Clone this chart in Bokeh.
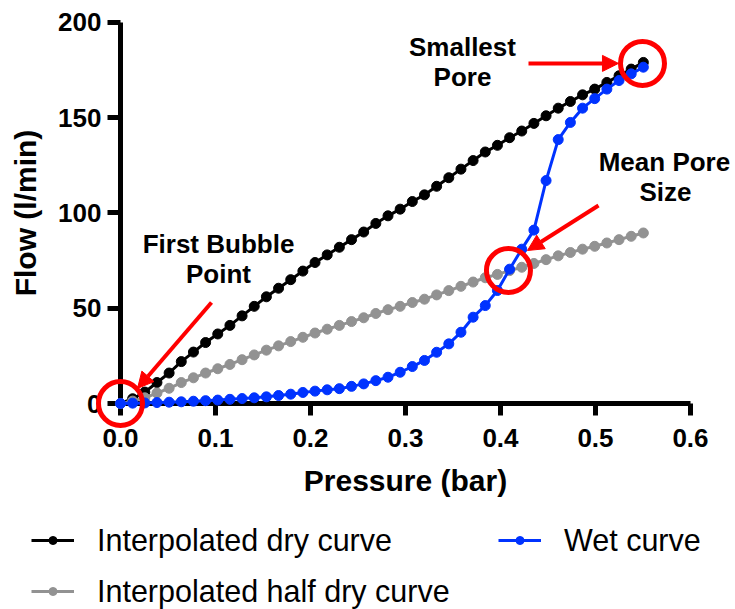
from bokeh.plotting import figure
from bokeh.models import (ColumnDataSource, Range1d, FixedTicker, PrintfTickFormatter,
                          Legend, LegendItem, Arrow, NormalHead)
from bokeh.core.properties import value
from bokeh.embed import file_html
from bokeh.resources import INLINE

# ---------------- data ----------------
pressure = [0.0, 0.0128, 0.0256, 0.0384, 0.0512, 0.064, 0.0768, 0.0896, 0.1024, 0.1152,
            0.128, 0.1408, 0.1536, 0.1664, 0.1792, 0.192, 0.2048, 0.2176, 0.2304, 0.2432,
            0.256, 0.2688, 0.2816, 0.2944, 0.3072, 0.32, 0.3328, 0.3456, 0.3584, 0.3712,
            0.384, 0.3968, 0.4096, 0.4224, 0.4352, 0.448, 0.4608, 0.4736, 0.4864, 0.4992,
            0.512, 0.5248, 0.5376, 0.5504]

dry_flow = [0, 2.5, 6, 11, 16, 22, 27, 32, 36.5, 41,
            46, 51, 56, 60.5, 65, 69.5, 74, 78, 82, 86,
            90, 94.5, 98.5, 102, 106, 109.5, 114, 118.5, 123, 127.5,
            132, 135.5, 139.5, 143, 147, 151, 155, 158.5, 162, 165,
            168.5, 172, 175.5, 179]

half_dry_flow = [0, 1.25, 3, 5.5, 8, 11, 13.5, 16, 18.25, 20.5,
                 23, 25.5, 28, 30.25, 32.5, 34.75, 37, 39, 41, 43,
                 45, 47.25, 49.25, 51, 53, 54.75, 57, 59.25, 61.5, 63.75,
                 66, 67.75, 69.75, 71.5, 73.5, 75.5, 77.5, 79.25, 81, 82.5,
                 84.25, 86, 87.75, 89.5]

wet_flow = [0, 0.2, 0.3, 0.5, 0.7, 0.9, 1.2, 1.5, 1.8, 2.2,
            2.6, 3.0, 3.5, 4.2, 4.9, 5.8, 6.5, 7.2, 7.8, 9.0,
            10.3, 12.0, 13.8, 16.4, 19.4, 22.6, 26.9, 31.3, 37.4, 45.3,
            51.4, 59.3, 70.5, 81.0, 91.0, 117.0, 138.5, 147.5, 155.0, 160.0,
            165.0, 169.5, 173.0, 176.5]

x_ticks = [0.0, 0.1, 0.2, 0.3, 0.4, 0.5, 0.6]
y_ticks = [0, 50, 100, 150, 200]

series_labels = ["Interpolated dry curve", "Wet curve", "Interpolated half dry curve"]

# highlighted points (red circles)
highlight_x = [0.0, 0.5495, 0.4084]
highlight_y = [0.0, 178.5, 69.8]

# arrows
arrow_x_start = [0.0958, 0.4295, 0.5032]
arrow_y_start = [53.0, 178.5, 103.9]
arrow_x_end = [0.0179, 0.5242, 0.4284]
arrow_y_end = [7.9, 178.5, 80.3]

# annotation texts
note_text = ["First Bubble", "Point", "Smallest", "Pore", "Mean Pore", "Size"]
note_x = [0.1032, 0.1032, 0.36, 0.36, 0.5726, 0.5737]
note_y = [83.5, 68.2, 186.9, 171.1, 126.5, 110.8]

# ---------------- style ----------------
FONT = "Liberation Sans"
BLACK = "#000000"
GRAY = "#929292"
BLUE = "#0033ff"
RED = "#ff0000"

p = figure(width=735, height=609,
           x_range=Range1d(-0.1263, 0.6474), y_range=Range1d(-108.1, 211.5),
           output_backend="svg", toolbar_location=None, tools="", min_border=0)
p.outline_line_color = None
p.grid.visible = False
p.background_fill_color = "white"

xa = p.xaxis[0]
ya = p.yaxis[0]
for ax in (xa, ya):
    ax.fixed_location = 0
    ax.axis_line_width = 5
    ax.major_tick_line_width = 5
    ax.major_tick_in = 0
    ax.minor_tick_line_color = None
    ax.major_label_text_font = FONT
    ax.major_label_text_font_style = "bold"
    ax.major_label_text_font_size = "26px"
    ax.major_label_text_color = BLACK
    ax.axis_label_text_font = FONT
    ax.axis_label_text_font_style = "bold"
    ax.axis_label_text_font_size = "30px"
    ax.axis_label_text_color = BLACK

xa.bounds = (0, 0.6)
xa.ticker = FixedTicker(ticks=x_ticks)
xa.formatter = PrintfTickFormatter(format="%.1f")
xa.major_tick_out = 12
xa.major_label_standoff = 13
xa.axis_label = "Pressure (bar)"
xa.axis_label_standoff = 14

ya.bounds = (0, 200)
ya.ticker = FixedTicker(ticks=y_ticks)
ya.formatter = PrintfTickFormatter(format="%d")
ya.major_tick_out = 13
ya.major_label_standoff = 6
ya.axis_label = "Flow (l/min)"
ya.axis_label_standoff = 13

src = ColumnDataSource(dict(p=pressure, dry=dry_flow, half=half_dry_flow, wet=wet_flow))

dry_l = p.line("p", "dry", source=src, line_color=BLACK, line_width=3, level="annotation")
dry_s = p.scatter("p", "dry", source=src, size=10, color=BLACK, level="annotation")
half_l = p.line("p", "half", source=src, line_color=GRAY, line_width=3, level="annotation")
half_s = p.scatter("p", "half", source=src, size=10, color=GRAY, level="annotation")
wet_l = p.line("p", "wet", source=src, line_color=BLUE, line_width=3, level="annotation")
wet_s = p.scatter("p", "wet", source=src, size=10, color=BLUE, level="annotation")

# red highlight circles
p.scatter(highlight_x, highlight_y, size=44, fill_color=None, line_color=RED,
          line_width=5, level="overlay")

for xs, ys, xe, ye in zip(arrow_x_start, arrow_y_start, arrow_x_end, arrow_y_end):
    p.add_layout(Arrow(end=NormalHead(size=16, fill_color=RED, line_color=RED, line_width=1),
                       x_start=xs, y_start=ys, x_end=xe, y_end=ye,
                       line_color=RED, line_width=4, level="overlay"))

note_src = ColumnDataSource(dict(x=note_x, y=note_y, text=note_text))
p.text(x="x", y="y", text="text", source=note_src, text_font=value(FONT),
       text_font_style="bold", text_font_size="26px", text_color=BLACK,
       text_align="center", text_baseline="middle", level="overlay")

legend = Legend(items=[LegendItem(label=series_labels[0], renderers=[dry_l, dry_s]),
                       LegendItem(label=series_labels[1], renderers=[wet_l, wet_s]),
                       LegendItem(label=series_labels[2], renderers=[half_l, half_s])],
                location=(31, 0), orientation="horizontal", ncols=2,
                glyph_width=43, glyph_height=20, label_standoff=23,
                label_width=386, label_height=36, spacing=15, padding=0, margin=0,
                border_line_color=None, background_fill_alpha=0,
                label_text_font=FONT, label_text_font_size="30.5px", label_text_color=BLACK)
p.add_layout(legend)

open("out.html", "w").write(file_html(p, INLINE))
